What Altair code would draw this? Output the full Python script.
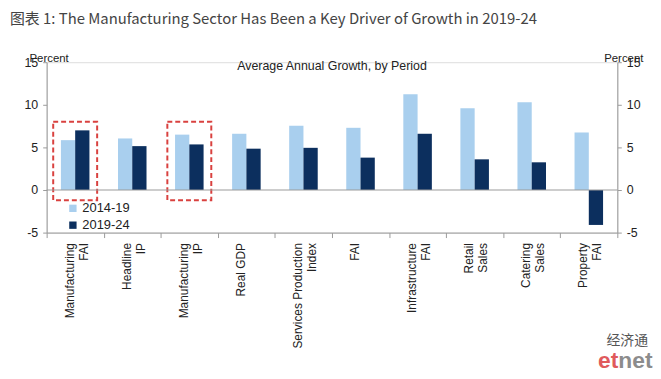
import altair as alt
import pandas as pd

# ---- data ----
categories = ["Manufacturing|FAI", "Headline|IP", "Manufacturing|IP", "Real GDP",
              "Services Production|Index", "FAI", "Infrastructure|FAI",
              "Retail|Sales", "Catering|Sales", "Property|FAI"]
periods = ["2014-19", "2019-24"]
growth_2014_19 = [5.85, 6.05, 6.5, 6.6, 7.55, 7.3, 11.25, 9.6, 10.3, 6.75]
growth_2019_24 = [7.0, 5.15, 5.35, 4.85, 4.95, 3.8, 6.6, 3.6, 3.25, -4.1]
highlighted = ["Manufacturing|FAI", "Manufacturing|IP"]
box_top = [8.0, 8.0]
box_bottom = [-1.2, -1.2]
y_ticks = [-5, 0, 5, 10, 15]
zero_line = [0]

title_text = "图表 1: The Manufacturing Sector Has Been a Key Driver of Growth in 2019-24"
subtitle_text = "Average Annual Growth, by Period"

rows = []
for c, a, b in zip(categories, growth_2014_19, growth_2019_24):
    rows.append({"category": c, "period": periods[0], "value": a})
    rows.append({"category": c, "period": periods[1], "value": b})
df = pd.DataFrame(rows)
box_df = pd.DataFrame({"category": highlighted, "top": box_top, "bottom": box_bottom})
zero_df = pd.DataFrame({"z": zero_line})

FONT = "Liberation Sans"
GREY = "#9a9a9a"
W, H = 576, 172

yscale = alt.Scale(domain=[-5, 15], nice=False, zero=False)

x_axis = alt.Axis(title=None, labelAngle=-90, labelAlign="right", labelBaseline="middle",
                  labelExpr="datum.value ? split(datum.value, '|') : ''", tickBand="extent",
                  domainColor=GREY, tickColor=GREY, tickSize=5, labelPadding=5,
                  labelOffset=-6,
                  labelFont=FONT, labelFontSize=12, labelColor="#222", labelLineHeight=14,
                  grid=False)

def y_axis(orient, tx):
    return alt.Axis(orient=orient, values=y_ticks, title="Percent", titleAngle=0,
                    titleX=tx, titleY=-4, titleAlign="center", titleBaseline="middle",
                    titleFont=FONT, titleFontSize=11.5, titleFontWeight="normal",
                    titleColor="#222", grid=False, tickSize=4, labelPadding=5,
                    labelExpr="'' + datum.value",
                    labelFont=FONT, labelFontSize=12.5, labelColor="#222",
                    domainColor=GREY, tickColor=GREY)

left_axis = y_axis("left", 2)
right_axis = y_axis("right", 6)

xenc = alt.X("category:N", sort=categories,
             scale=alt.Scale(paddingInner=0, paddingOuter=0), axis=x_axis)

bars = alt.Chart(df).mark_bar().encode(
    x=xenc,
    xOffset=alt.XOffset("period:N", sort=periods,
                        scale=alt.Scale(paddingInner=0, paddingOuter=alt.ExprRef(expr="1.05"))),
    y=alt.Y("value:Q", scale=yscale, axis=left_axis),
    color=alt.Color("period:N", sort=periods,
                    scale=alt.Scale(domain=periods, range=["#a9cfee", "#0c2f5e"]),
                    legend=alt.Legend(title=None, orient="none", legendX=20, legendY=141,
                                      symbolType="square", symbolSize=55, symbolStrokeWidth=0,
                                      labelFont=FONT, labelFontSize=13, labelColor="#222",
                                      rowPadding=3, labelOffset=3, padding=0)),
)

boxes = alt.Chart(box_df).mark_bar(
    fillOpacity=0, stroke="#d9413f", strokeWidth=2, strokeDash=[5, 3],
    width=alt.RelativeBandSize(0.77)
).encode(
    x=xenc,
    y=alt.Y("top:Q", scale=yscale, axis=left_axis),
    y2="bottom:Q",
)

zero = alt.Chart(zero_df).mark_rule(color=GREY, strokeWidth=1).encode(
    y=alt.Y("z:Q", scale=yscale, axis=right_axis)
)

subtitle = alt.Chart(zero_df).mark_text(
    text=subtitle_text, font=FONT, fontSize=12.5, color="#222", align="center", baseline="middle"
).encode(x=alt.value(W / 2), y=alt.value(4))

wm1 = alt.Chart(zero_df).mark_text(
    text="经济通", font="Noto Sans CJK SC", fontSize=14, color="#555", align="center", baseline="middle"
).encode(x=alt.value(586), y=alt.value(281))
wm2 = alt.Chart(zero_df).mark_text(
    text="et", font=FONT, fontSize=23, fontWeight="bold", color="#e05a5c", align="right", baseline="middle"
).encode(x=alt.value(577), y=alt.value(302))
wm3 = alt.Chart(zero_df).mark_text(
    text="net", font=FONT, fontSize=23, fontWeight="bold", color="#8c8c8c", align="left", baseline="middle"
).encode(x=alt.value(577), y=alt.value(302))

inner = alt.layer(bars, boxes)
chart = alt.layer(inner, zero, subtitle, wm1, wm2, wm3).resolve_scale(y="independent").properties(
    width=W, height=H,
    autosize=alt.AutoSizeParams(type="none"),
    padding={"left": 39, "top": 53, "right": 36, "bottom": 140},
    title=alt.TitleParams(title_text, anchor="start", frame="group", font="Noto Sans CJK SC",
                          fontSize=15, fontWeight="normal", color="#444", dx=-37, offset=26),
).configure_view(stroke=None).configure(background="white")

chart.save("out.html", embed_options={"renderer": "svg", "actions": False})
